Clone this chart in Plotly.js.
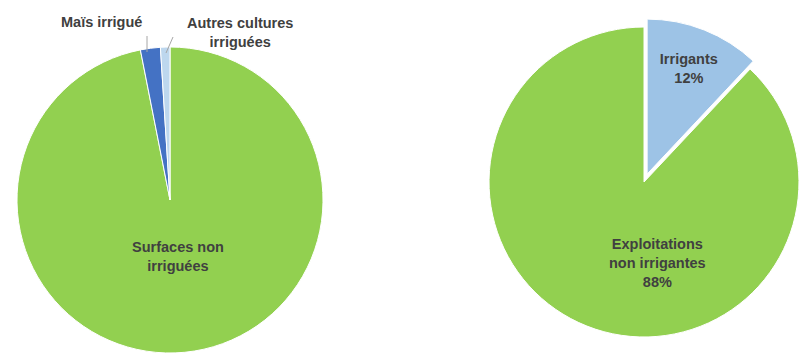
<!DOCTYPE html>
<html>
<head>
<meta charset="utf-8">
<script src="https://cdn.plot.ly/plotly-3.0.1.min.js"></script>
<style>html,body{margin:0;padding:0;background:#fff}#chart{width:808px;height:354px}</style>
</head>
<body>
<div id="chart"></div>
<script>
// Left pie: surfaces (clockwise from 12 o'clock)
const surfLabels = ["Surfaces non<br>irriguées", "Maïs irrigué", "Autres cultures<br>irriguées"];
const surfValues = [96.9, 2.1, 1.0];
const surfColors = ["#92D050", "#4472C4", "#BDD7EE"];

// Right pie: exploitations
const explLabels = ["Irrigants", "Exploitations<br>non irrigantes"];
const explValues = [12, 88];
const explColors = ["#9DC3E6", "#92D050"];
const explPull = [0.055, 0];

const W = 808, H = 354;
function dom(cx, cyTop, half) {
  return {
    x: [(cx - half) / W, (cx + half) / W],
    y: [(H - cyTop - half) / H, (H - cyTop + half) / H]
  };
}
const px = x => x / W;
const py = y => 1 - y / H;

const txtFont = {family: "Liberation Sans, Arial, sans-serif", size: 14.5, color: "#404040"};

const traces = [
  {
    type: "pie",
    labels: surfLabels,
    values: surfValues,
    marker: {colors: surfColors, line: {color: "#ffffff", width: 1}},
    sort: false,
    direction: "clockwise",
    rotation: 0,
    textinfo: "none",
    showlegend: false,
    hoverinfo: "label+percent",
    domain: dom(170, 200, 153)
  },
  {
    type: "pie",
    labels: explLabels,
    values: explValues,
    marker: {colors: explColors, line: {color: "#ffffff", width: 1}},
    pull: explPull,
    sort: false,
    direction: "clockwise",
    rotation: 0,
    textposition: ["inside", "none"],
    texttemplate: "<b>%{label}<br>%{percent:.0%}</b>",
    insidetextorientation: "horizontal",
    insidetextfont: txtFont,
    showlegend: false,
    hoverinfo: "label+percent",
    domain: dom(644, 182, 163.5)
  }
];

const explTotal = explValues.reduce((a, b) => a + b, 0);
const pct = v => Math.round(100 * v / explTotal) + "%";

function ann(text, x, y) {
  return {
    text: "<b>" + text + "</b>", xref: "paper", yref: "paper",
    x: px(x), y: py(y), xanchor: "center", yanchor: "middle",
    showarrow: false, font: txtFont, align: "center"
  };
}

const layout = {
  width: W, height: H,
  margin: {l: 0, r: 0, t: 0, b: 0},
  paper_bgcolor: "#ffffff",
  showlegend: false,
  annotations: [
    ann(surfLabels[0], 178, 256),
    ann(surfLabels[1], 101, 22),
    ann(surfLabels[2], 240, 32),
    ann(explLabels[1] + "<br>" + pct(explValues[1]), 657, 263)
  ],
  shapes: [
    {type: "line", xref: "paper", yref: "paper", x0: px(147), y0: py(36), x1: px(147), y1: py(52),
     line: {color: "#a6a6a6", width: 1}},
    {type: "line", xref: "paper", yref: "paper", x0: px(166), y0: py(53), x1: px(173), y1: py(37),
     line: {color: "#a6a6a6", width: 1}}
  ]
};

Plotly.newPlot("chart", traces, layout, {displayModeBar: false, staticPlot: true});
</script>
</body>
</html>
